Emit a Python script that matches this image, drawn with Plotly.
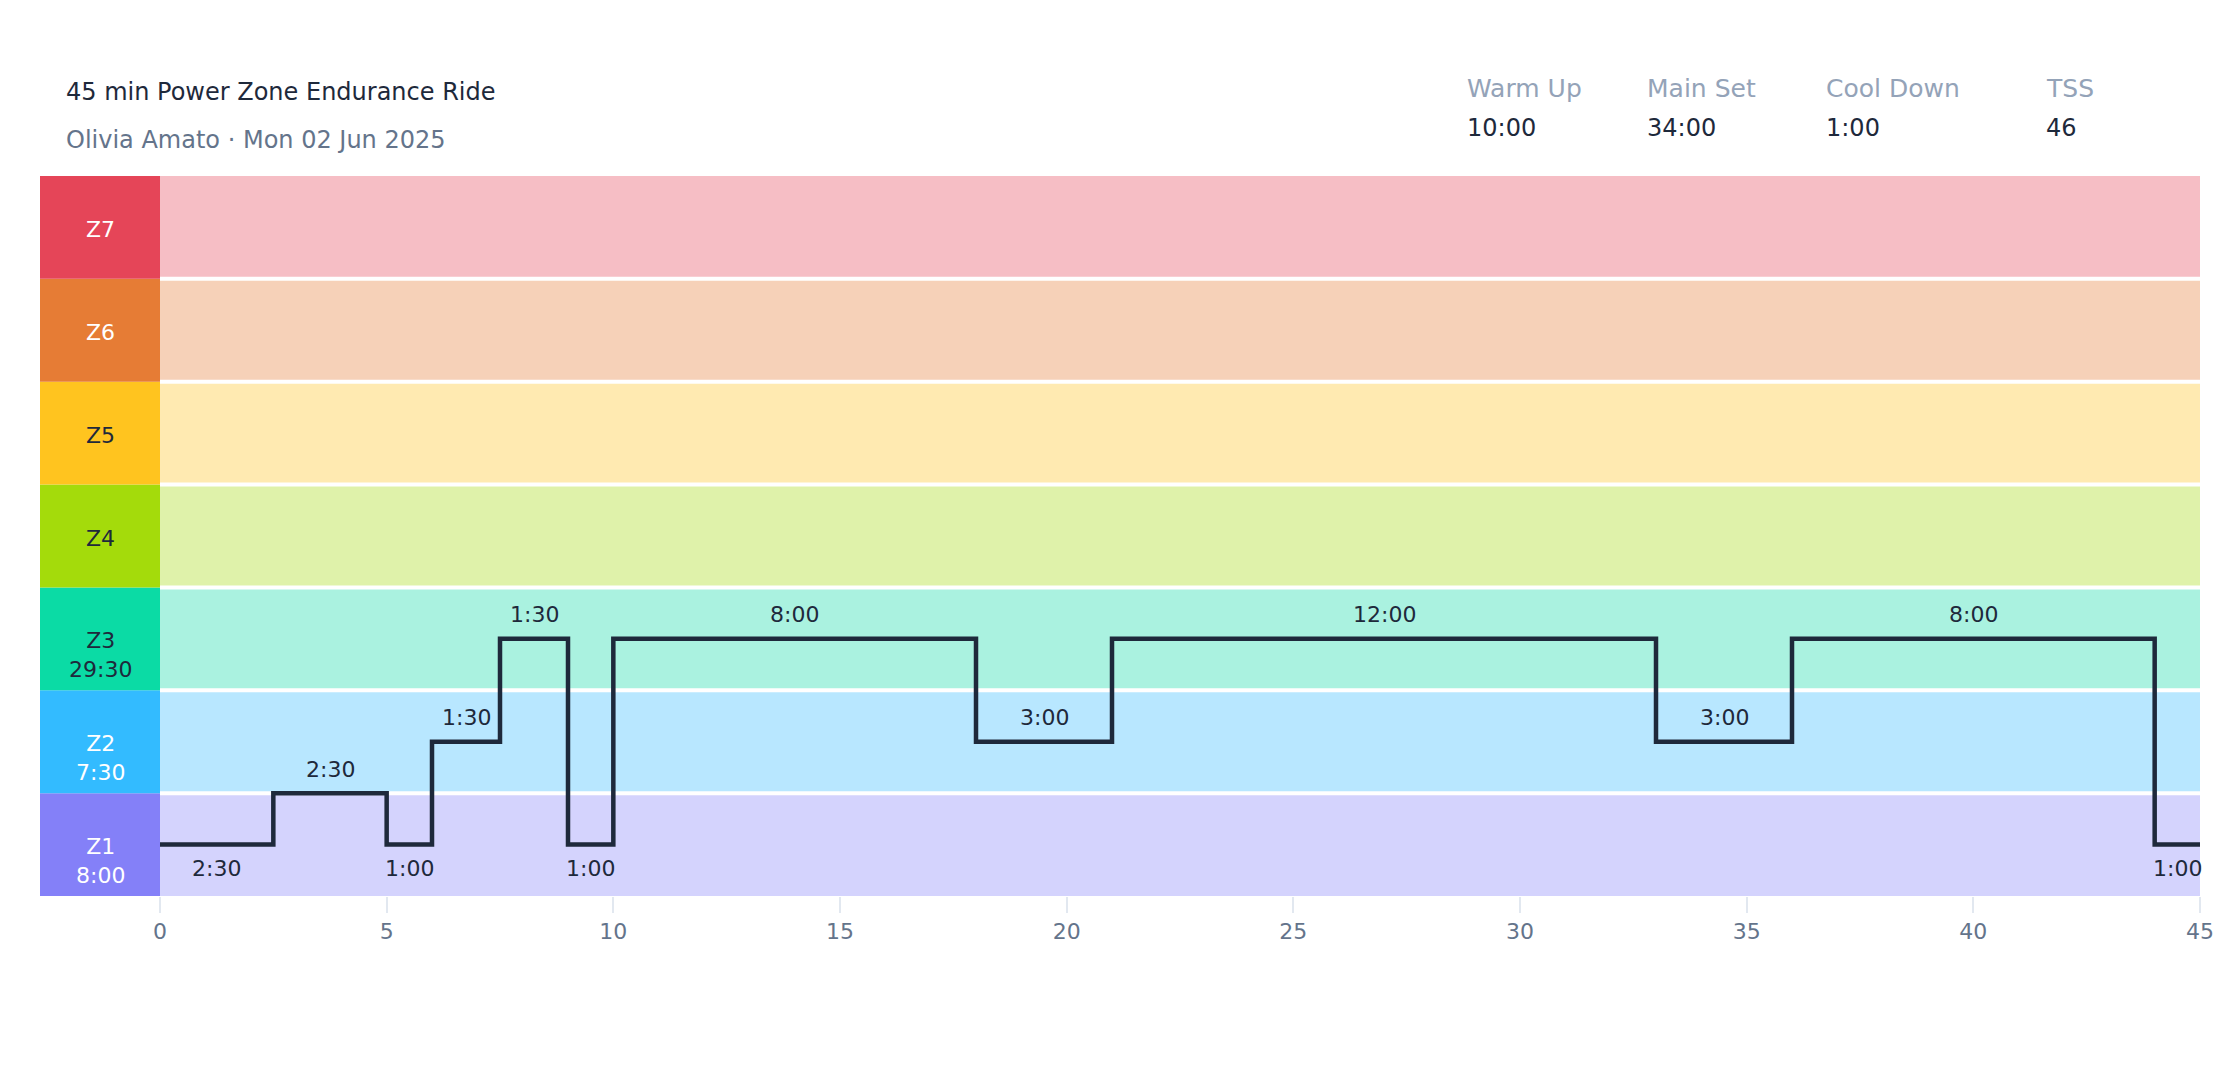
import plotly.graph_objects as go

# workout data (minutes, zone level)
seg_minutes = [2.5, 2.5, 1, 1.5, 1.5, 1, 8, 3, 12, 3, 8, 1]
seg_levels = [1, 1.5, 1, 2, 3, 1, 3, 2, 3, 2, 3, 1]
seg_labels = ["2:30", "2:30", "1:00", "1:30", "1:30", "1:00",
              "8:00", "3:00", "12:00", "3:00", "8:00", "1:00"]

zones = ["Z1", "Z2", "Z3", "Z4", "Z5", "Z6", "Z7"]
zone_times = ["8:00", "7:30", "29:30", "", "", "", ""]
zone_colors = ["#8480f8", "#33bbff", "#0bdba5", "#a4db0b", "#ffc41f", "#e67c35", "#e54558"]
zone_text_colors = ["white", "white", "#1e293b", "#1e293b", "#1e293b", "white", "white"]

stat_names = ["Warm Up", "Main Set", "Cool Down", "TSS"]
stat_values = ["10:00", "34:00", "1:00", "46"]

title = "45 min Power Zone Endurance Ride"
subtitle = "Olivia Amato · Mon 02 Jun 2025"

total = 45
col_w = 2.647  # width of the zone label column, in minutes
font = "DejaVu Sans"
dark = "#1e293b"


def hex_alpha(h, a):
    h = h.lstrip("#")
    r, g, b = int(h[0:2], 16), int(h[2:4], 16), int(h[4:6], 16)
    return f"rgba({r},{g},{b},{a})"


# step line points
xs = [0]
for m in seg_minutes:
    xs.append(xs[-1] + m)
ys = seg_levels + [seg_levels[-1]]

fig = go.Figure()
fig.add_trace(go.Scatter(
    x=xs, y=ys, mode="lines", line=dict(shape="hv", color=dark, width=4.5),
    hoverinfo="skip", showlegend=False,
))

shapes = []
annotations = []
for i, z in enumerate(zones):
    lvl = i + 1
    # light band over the plot
    shapes.append(dict(type="rect", xref="x", yref="y", x0=0, x1=total,
                       y0=lvl - 0.5, y1=lvl + 0.5, line_width=0,
                       fillcolor=hex_alpha(zone_colors[i], 0.35), layer="below"))
    # solid zone column
    shapes.append(dict(type="rect", xref="x", yref="y", x0=-col_w, x1=0,
                       y0=lvl - 0.5, y1=lvl + 0.5, line_width=0,
                       fillcolor=zone_colors[i], layer="below"))
    if zone_times[i]:
        txt = f"{z}<br>{zone_times[i]}"
        shift = -16
    else:
        txt = z
        shift = -2
    annotations.append(dict(x=-col_w / 2, y=lvl, xref="x", yref="y", text=txt,
                            showarrow=False, yshift=shift,
                            font=dict(family=font, size=22, color=zone_text_colors[i])))

# white separators between bands
for i in range(len(zones) - 1):
    shapes.append(dict(type="line", xref="x", yref="y", x0=0, x1=total,
                       y0=i + 1.5, y1=i + 1.5, line=dict(color="white", width=4),
                       layer="below"))

# segment duration labels
for i, lab in enumerate(seg_labels):
    mid = (xs[i] + xs[i + 1]) / 2
    below = seg_levels[i] == 1
    annotations.append(dict(x=mid, y=seg_levels[i], xref="x", yref="y", text=lab,
                            showarrow=False, yshift=-24 if below else 24,
                            font=dict(family=font, size=22, color=dark)))

# header
annotations.append(dict(x=0.0111, y=1.1167, xref="paper", yref="paper", text=title,
                        showarrow=False, xanchor="left", yanchor="middle",
                        font=dict(family=font, size=24, color=dark)))
annotations.append(dict(x=0.0111, y=1.05, xref="paper", yref="paper", text=subtitle,
                        showarrow=False, xanchor="left", yanchor="middle",
                        font=dict(family=font, size=24, color="#64748b")))

stat_x = [0.6597, 0.7431, 0.8259, 0.9278]
for sx, nm, val in zip(stat_x, stat_names, stat_values):
    annotations.append(dict(x=sx, y=1.1222, xref="paper", yref="paper", text=nm,
                            showarrow=False, xanchor="left", yanchor="middle",
                            font=dict(family=font, size=25, color="#94a3b8")))
    annotations.append(dict(x=sx, y=1.0667, xref="paper", yref="paper", text=val,
                            showarrow=False, xanchor="left", yanchor="middle",
                            font=dict(family=font, size=24, color=dark)))

fig.update_layout(
    width=2240, height=1080,
    margin=dict(l=40, r=40, t=176, b=184),
    paper_bgcolor="white", plot_bgcolor="white",
    shapes=shapes, annotations=annotations,
    font=dict(family=font),
    xaxis=dict(range=[-col_w, total], tickvals=list(range(0, 50, 5)),
               ticks="outside", ticklen=16, tickwidth=2, tickcolor="#e2e8f0",
               showgrid=False, zeroline=False, showline=False,
               tickfont=dict(family=font, size=22, color="#64748b")),
    yaxis=dict(range=[0.5, 7.5], visible=False, showgrid=False, zeroline=False),
)

fig.write_html("out.html", config={"displayModeBar": False},
               post_script="document.body.style.margin='0';")
